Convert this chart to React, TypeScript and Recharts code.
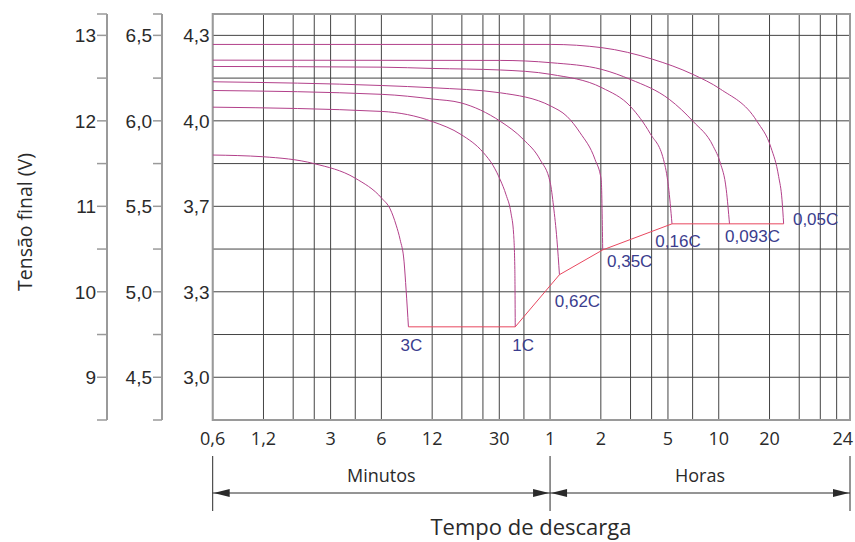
import { LineChart, Line, XAxis, YAxis, CartesianGrid, ReferenceArea } from 'recharts'

// discharge time in minutes (log axis), voltage on the 12 V scale
const X_GRID = [0.6, 1.2, 1.8, 2.4, 3, 4.2, 6, 12, 18, 24, 30, 42, 60, 120, 180, 240, 300, 420, 600, 1200, 1800, 2400, 3000, 3600]
const X_LABEL_AT = [0.6, 1.2, 3, 6, 12, 30, 60, 120, 300, 600, 1200, 3600]
const X_LABELS = ['0,6', '1,2', '3', '6', '12', '30', '1', '2', '5', '10', '20', '24']

const Y_GRID = [9, 9.5, 10, 10.5, 11, 11.5, 12, 12.5, 13]
const Y_TICKS = [8.5, 9, 9.5, 10, 10.5, 11, 11.5, 12, 12.5, 13, 13.25]
const Y_LABEL_AT = [9, 10, 11, 12, 13]
const Y_LABELS_12 = ['9', '10', '11', '12', '13']
const Y_LABELS_6 = ['4,5', '5,0', '5,5', '6,0', '6,5']
const Y_LABELS_CELL = ['3,0', '3,3', '3,7', '4,0', '4,3']

const CURVE_NAMES = ['3C', '1C', '0,62C', '0,35C', '0,16C', '0,093C', '0,05C']

const c3C = [[0.6, 11.6], [1.19, 11.58], [2.39, 11.5], [4.19, 11.33], [6.06, 11.09], [6.76, 10.97], [7.34, 10.78], [7.75, 10.61], [8.18, 10.35], [8.41, 10.02], [8.68, 9.59]]
const c1C = [[0.6, 12.16], [6.06, 12.11], [12.1, 11.99], [17.8, 11.84], [24.1, 11.63], [27.6, 11.475], [30.4, 11.31], [32.9, 11.135], [35.2, 10.92], [36.5, 10.67], [37.1, 10.26], [37.3, 9.59]]
const c062C = [[0.6, 12.355], [6.06, 12.31], [12.1, 12.255], [17.8, 12.21], [30.4, 11.995], [41.8, 11.78], [52.4, 11.545], [60.1, 11.28], [62.9, 11.0], [65.9, 10.61], [68.2, 10.2]]
const c035C = [[0.6, 12.457], [6.06, 12.413], [12.1, 12.387], [30.4, 12.328], [60.9, 12.171], [75.5, 12.053], [90.5, 11.859], [111, 11.545], [120.6, 11.311], [123.1, 10.49]]
const c016C = [[0.6, 12.636], [6.06, 12.628], [12.1, 12.613], [30.4, 12.595], [60.9, 12.543], [121.8, 12.387], [180, 12.167], [235.6, 11.85], [282.5, 11.545], [302, 11.232], [317, 10.795]]
const c0093C = [[0.6, 12.71], [30.4, 12.707], [60.9, 12.68], [121.8, 12.601], [180, 12.484], [306.6, 12.249], [422, 11.995], [557, 11.701], [613, 11.507], [665, 11.194], [695, 10.795]]
const c005C = [[0.6, 12.894], [60.9, 12.894], [121.8, 12.856], [244, 12.72], [422, 12.543], [613, 12.372], [1011, 11.995], [1225, 11.686], [1359, 11.35], [1423, 11.076], [1455, 10.795]]
const END_VOLTAGE = [[8.68, 9.59], [37.3, 9.59], [68.2, 10.2], [123.1, 10.49], [317, 10.795], [1455, 10.795]]

const CURVES = [c3C, c1C, c062C, c035C, c016C, c0093C, c005C]

// label offsets from each curve's end point, in px
const LABEL_DX = [3, 8, 18, 27, 6, 23, 32]
const LABEL_DY = [19, 19, 27, 12, 18, 13, -4]

const CURVE_COLOR = '#b2408a'
const END_COLOR = '#e8475f'
const GRID = '#444'
const FRAME = '#9a9a9a'
const TEXT = '#2a2a2a'
const LABEL_BLUE = '#3b3d8e'

const W = 855
const H = 542
const PLOT_LEFT = 212.7
const PLOT_RIGHT = 850
const PLOT_TOP = 14
const PLOT_BOTTOM = 420

const toPoints = (arr: number[][]) => arr.map(([t, v]) => ({ t, v }))

function pick(values: number[], labels: string[]) {
  return (v: number) => {
    const i = values.findIndex((x) => Math.abs(x - v) < 1e-6)
    return i >= 0 ? labels[i] : ''
  }
}

const sansY = '"Liberation Sans", Arial, sans-serif'
const sansX = '"Open Sans", sans-serif'

const xLabel = pick(X_LABEL_AT, X_LABELS)

function XTick(props: any) {
  const { x, y, payload } = props
  const text = xLabel(payload.value)
  if (!text) return null
  const isLast = payload.value === X_LABEL_AT[X_LABEL_AT.length - 1]
  return (
    <text
      x={isLast ? x + 3 : x}
      y={y}
      dy="0.71em"
      textAnchor={isLast ? 'end' : 'middle'}
      fontSize={18}
      fontFamily={sansX}
      fill={TEXT}
    >
      {text}
    </text>
  )
}

function curveLabel(idx: number, last: number) {
  return (p: any) => {
    if (p.index !== last) return null
    const x = p.x ?? p.viewBox?.x
    const y = p.y ?? p.viewBox?.y
    return (
      <text
        x={x + LABEL_DX[idx]}
        y={y + LABEL_DY[idx]}
        textAnchor="middle"
        dominantBaseline="central"
        fontSize={17}
        fontFamily={sansY}
        fill={LABEL_BLUE}
      >
        {CURVE_NAMES[idx]}
      </text>
    )
  }
}

export default function App() {
  const hourX = PLOT_LEFT + ((PLOT_RIGHT - PLOT_LEFT) * Math.log(60 / 0.6)) / Math.log(3600 / 0.6)
  const arrowY = 493
  return (
    <div style={{ position: 'absolute', left: 0, top: 0, width: W, height: H, background: '#fff' }}>
      <LineChart width={W} height={H} margin={{ top: PLOT_TOP, right: W - PLOT_RIGHT, bottom: H - PLOT_BOTTOM - 30, left: 0 }}>
        <CartesianGrid xAxisId="x" yAxisId="inner" stroke={GRID} strokeWidth={1} />
        <XAxis
          xAxisId="x"
          dataKey="t"
          type="number"
          scale="log"
          domain={[0.6, 3600]}
          allowDataOverflow
          ticks={X_GRID}
          interval={0}
          tick={<XTick />}
          axisLine={false}
          tickLine={false}
          tickSize={0}
          tickMargin={12}
          height={30}
        />
        <YAxis
          yAxisId="inner"
          type="number"
          domain={[8.5, 13.25]}
          allowDataOverflow
          ticks={Y_GRID}
          interval={0}
          width={50.7}
          axisLine={false}
          tickLine={false}
          tickSize={0}
          tickMargin={3}
          tickFormatter={pick(Y_LABEL_AT, Y_LABELS_CELL)}
          tick={{ fontSize: 19, fill: TEXT, fontFamily: sansY }}
        />
        <YAxis
          yAxisId="mid"
          type="number"
          domain={[8.5, 13.25]}
          allowDataOverflow
          ticks={Y_TICKS}
          interval={0}
          width={55}
          axisLine={{ stroke: FRAME, strokeWidth: 2 }}
          tickLine={{ stroke: FRAME, strokeWidth: 1.5 }}
          tickSize={9}
          tickMargin={1}
          tickFormatter={pick(Y_LABEL_AT, Y_LABELS_6)}
          tick={{ fontSize: 19, fill: TEXT, fontFamily: sansY }}
        />
        <YAxis
          yAxisId="outer"
          type="number"
          domain={[8.5, 13.25]}
          allowDataOverflow
          ticks={Y_TICKS}
          interval={0}
          width={107}
          axisLine={{ stroke: FRAME, strokeWidth: 2 }}
          tickLine={{ stroke: FRAME, strokeWidth: 1.5 }}
          tickSize={10}
          tickMargin={1}
          tickFormatter={pick(Y_LABEL_AT, Y_LABELS_12)}
          tick={{ fontSize: 19, fill: TEXT, fontFamily: sansY }}
        />
        <ReferenceArea
          xAxisId="x"
          yAxisId="inner"
          x1={0.6}
          x2={3600}
          y1={8.5}
          y2={13.25}
          fill="none"
          stroke={FRAME}
          strokeWidth={2}
          ifOverflow="visible"
        />
        {CURVES.map((c, i) => (
          <Line
            key={CURVE_NAMES[i]}
            xAxisId="x"
            yAxisId="inner"
            data={toPoints(c)}
            dataKey="v"
            type="monotone"
            stroke={CURVE_COLOR}
            strokeWidth={1}
            dot={false}
            activeDot={false}
            isAnimationActive={false}
            label={curveLabel(i, c.length - 1)}
          />
        ))}
        <Line
          xAxisId="x"
          yAxisId="inner"
          data={toPoints(END_VOLTAGE)}
          dataKey="v"
          type="linear"
          stroke={END_COLOR}
          strokeWidth={1}
          dot={false}
          activeDot={false}
          isAnimationActive={false}
        />
      </LineChart>
      <svg width={W} height={H} style={{ position: 'absolute', left: 0, top: 0, pointerEvents: 'none' }}>
        <text
          transform="translate(24 222) rotate(-90)"
          textAnchor="middle"
          dominantBaseline="central"
          fontSize={19.5}
          fontFamily={sansX}
          fill={TEXT}
        >
          Tensão final (V)
        </text>
        {[PLOT_LEFT, hourX, PLOT_RIGHT].map((x) => (
          <line key={x} x1={x} x2={x} y1={456} y2={511} stroke={TEXT} strokeWidth={1} />
        ))}
        <line x1={PLOT_LEFT} x2={PLOT_RIGHT} y1={arrowY} y2={arrowY} stroke={TEXT} strokeWidth={1} />
        <polygon points={`${PLOT_LEFT + 1},${arrowY} ${PLOT_LEFT + 17},${arrowY - 4} ${PLOT_LEFT + 17},${arrowY + 4}`} fill={TEXT} />
        <polygon points={`${hourX - 1},${arrowY} ${hourX - 17},${arrowY - 4} ${hourX - 17},${arrowY + 4}`} fill={TEXT} />
        <polygon points={`${hourX + 1},${arrowY} ${hourX + 17},${arrowY - 4} ${hourX + 17},${arrowY + 4}`} fill={TEXT} />
        <polygon points={`${PLOT_RIGHT - 1},${arrowY} ${PLOT_RIGHT - 17},${arrowY - 4} ${PLOT_RIGHT - 17},${arrowY + 4}`} fill={TEXT} />
        <text x={(PLOT_LEFT + hourX) / 2} y={475} textAnchor="middle" dominantBaseline="central" fontSize={18} fontFamily={sansX} fill={TEXT}>
          Minutos
        </text>
        <text x={(hourX + PLOT_RIGHT) / 2} y={475} textAnchor="middle" dominantBaseline="central" fontSize={18} fontFamily={sansX} fill={TEXT}>
          Horas
        </text>
        <text x={531} y={526} textAnchor="middle" dominantBaseline="central" fontSize={22} fontFamily={sansX} fill={TEXT}>
          Tempo de descarga
        </text>
      </svg>
    </div>
  )
}
